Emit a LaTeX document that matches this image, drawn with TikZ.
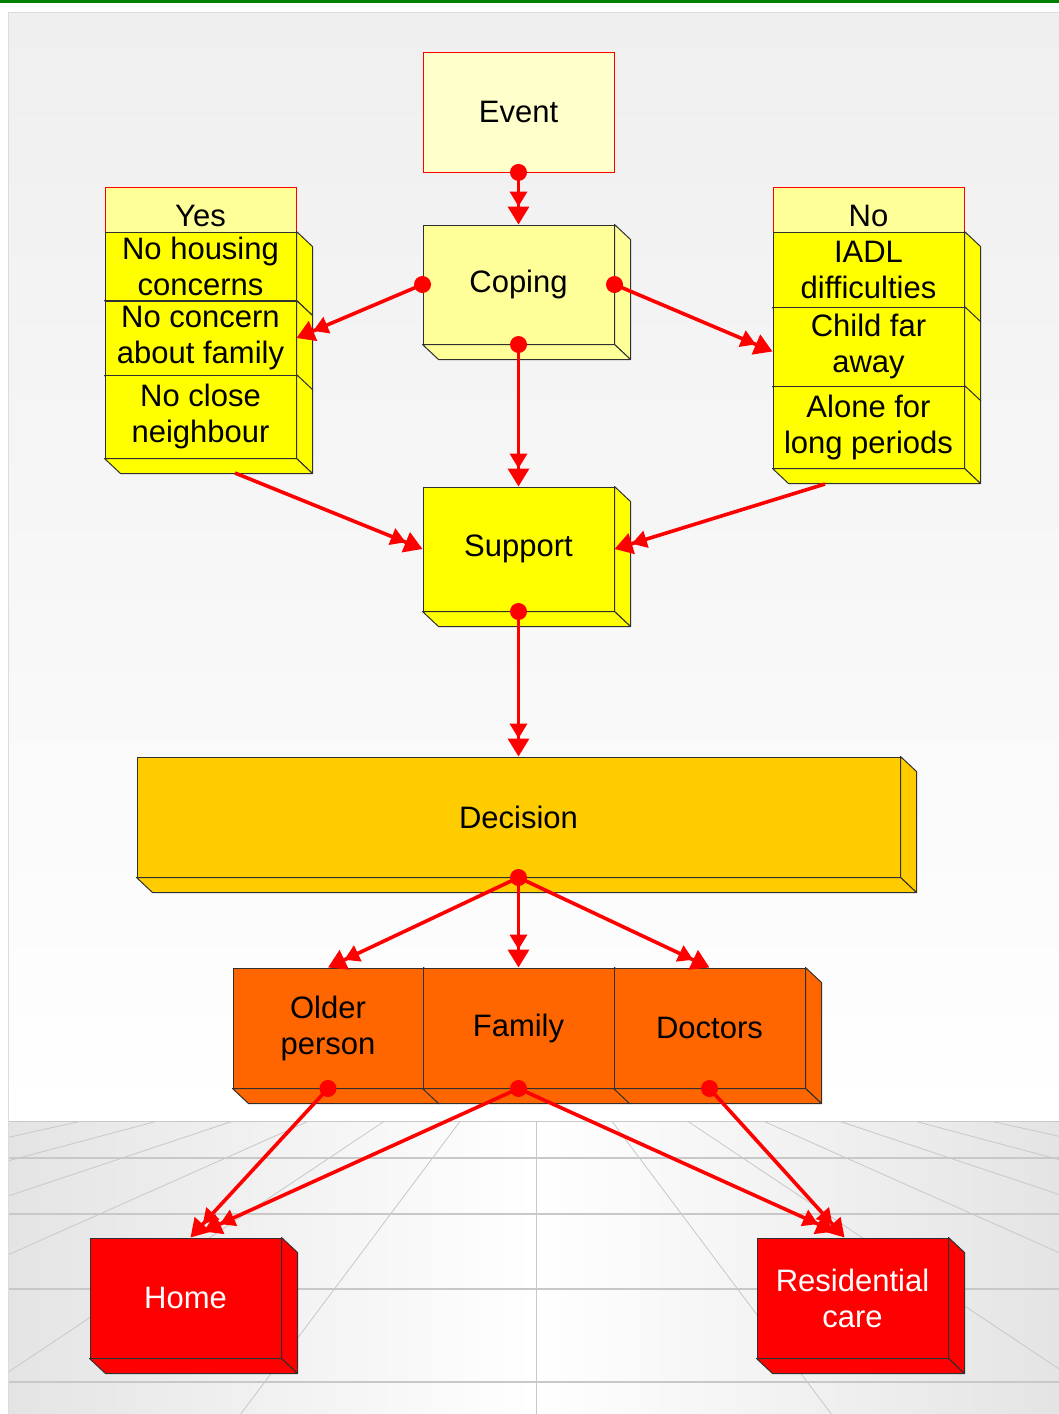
\documentclass[tikz,border=0pt]{standalone}
\usepackage{fontspec}
\setmainfont{Liberation Sans}
\usetikzlibrary{arrows.meta}
\definecolor{pale}{HTML}{FFFFCC}
\definecolor{lightyel}{HTML}{FFFF99}
\definecolor{yel}{HTML}{FFFF00}
\definecolor{gold}{HTML}{FFCC00}
\definecolor{orng}{HTML}{FF6600}
\definecolor{redbox}{HTML}{FF0000}
\definecolor{edgec}{HTML}{303030}
\definecolor{gridc}{HTML}{C8C8C8}
\definecolor{flooredge}{HTML}{E4E4E4}
\definecolor{bgtop}{HTML}{EFEFEF}
\definecolor{darkgreen}{HTML}{008000}
\definecolor{panelc}{HTML}{DCDCDC}

\newcommand\boxsides[2]{%
 \filldraw[edge,fill=#2] (#1.north east) -- ++(16,15) -- ([shift={(16,15)}]#1.south east) -- (#1.south east) -- cycle;
 \filldraw[edge,fill=#2] (#1.south west) -- ++(16,15) -- ([shift={(16,15)}]#1.south east) -- (#1.south east) -- cycle;}

\begin{document}
\begin{tikzpicture}[x=1pt,y=-1pt,
 edge/.style={draw=edgec,line width=1pt,line join=round},
 box/.style={edge,rectangle,inner sep=0pt,align=center,font=\fontsize{31}{36}\selectfont,text=black},
 flat/.style={rectangle,draw=red,line width=0.8pt,inner sep=0pt,align=center,font=\fontsize{31}{36}\selectfont},
 conn/.style={draw=red,line width=3.6pt,-{Triangle[length=15pt,width=17pt]Triangle[length=18pt,width=21pt]}},
 dot/.style={fill=red},
 gridline/.style={draw=gridc,line width=0.8pt},
 gridrow/.style={draw=gridc,line width=1.6pt},
]
\useasboundingbox (0,0) rectangle (1059,1414);
% background
\fill[white] (0,0) rectangle (1059,1414);
\fill[darkgreen] (0,0) rectangle (1059,3);
\shade[top color=bgtop,bottom color=white] (8,12) rectangle (1059,1121);
\shade[left color=flooredge,right color=flooredge,middle color=white] (8,1121) rectangle (1059,1414);
\begin{scope}
 \clip (8,1121) rectangle (1059,1414);
 \foreach \k in {-7,...,7} \draw[gridline] (536+75.7*\k,1121) -- (536+295.3*\k,1414);
 \foreach \yy in {1121,1158,1214,1289,1382} \draw[gridrow] (8,\yy) -- (1059,\yy);
\end{scope}
\draw[panelc,line width=1pt] (8,1414) -- (8,12) -- (1059,12);

% top
\node[flat,fill=pale,minimum width=191pt,minimum height=120pt] (event) at (518.5,112) {Event};
\node[box,fill=lightyel,minimum width=191pt,minimum height=119pt] (coping) at (518.5,284.5) {Coping};
\boxsides{coping}{lightyel}

% Yes stack
\node[flat,fill=lightyel,minimum width=191pt,minimum height=45pt] (yeshead) at (200.5,209.5) {\raisebox{-16.5pt}[0pt][0pt]{Yes}};
\node[box,fill=yel,minimum width=191pt,minimum height=68pt] (yes1) at (200.5,266) {No housing\\concerns};
\boxsides{yes1}{yel}
\node[box,fill=yel,minimum width=191pt,minimum height=74pt] (yes2) at (200.5,338) {No concern\\about family};
\boxsides{yes2}{yel}
\node[box,fill=yel,minimum width=191pt,minimum height=83pt] (yes3) at (200.5,416.5) {No close\\neighbour};
\boxsides{yes3}{yel}
\coordinate (yesout) at (235,473);

% No stack
\node[flat,fill=lightyel,minimum width=191pt,minimum height=45pt] (nohead) at (868.5,209.5) {\raisebox{-16.5pt}[0pt][0pt]{No}};
\node[box,fill=yel,minimum width=191pt,minimum height=75pt] (no1) at (868.5,269.5) {IADL\\difficulties};
\boxsides{no1}{yel}
\node[box,fill=yel,minimum width=191pt,minimum height=79pt] (no2) at (868.5,346.5) {Child far\\away};
\boxsides{no2}{yel}
\node[box,fill=yel,minimum width=191pt,minimum height=82pt] (no3) at (868.5,427) {Alone for\\long periods};
\boxsides{no3}{yel}
\coordinate (noout) at (825,484);

% middle
\node[box,fill=yel,minimum width=191pt,minimum height=124pt] (support) at (518.5,549) {Support};
\boxsides{support}{yel}
\node[box,fill=gold,minimum width=763pt,minimum height=120pt] (decision) at (518.5,817) {Decision};
\boxsides{decision}{gold}

% actors
\node[box,fill=orng,minimum width=190pt,minimum height=120pt] (older) at (328,1028) {Older\\person};
\boxsides{older}{orng}
\node[box,fill=orng,minimum width=191pt,minimum height=120pt] (family) at (518.5,1028) {Family};
\boxsides{family}{orng}
\node[box,fill=orng,minimum width=191pt,minimum height=120pt] (doctors) at (709.5,1028) {Doctors};
\boxsides{doctors}{orng}

% outcomes
\node[box,fill=redbox,text=white,minimum width=191pt,minimum height=120pt] (home) at (185.5,1298) {Home};
\boxsides{home}{redbox}
\node[box,fill=redbox,text=white,minimum width=191pt,minimum height=120pt] (resid) at (852.5,1298) {Residential\\care};
\boxsides{resid}{redbox}

% connectors
\draw[conn] (event.south) -- (coping.north);
\draw[conn] (coping.west) -- (yes2.east);
\draw[conn] (coping.east) -- ([yshift=-5pt]no2.west);
\draw[conn] (coping.south) -- (support.north);
\draw[conn] (yesout) -- (support.west);
\draw[conn] (noout) -- (support.east);
\draw[conn] (support.south) -- (decision.north);
\draw[conn] (decision.south) -- (older.north);
\draw[conn] (decision.south) -- (family.north);
\draw[conn] (decision.south) -- (doctors.north);
\draw[conn] (older.south) -- ([xshift=5pt]home.north);
\draw[conn] (family.south) -- ([xshift=18pt,yshift=6pt]home.north);
\draw[conn] (family.south) -- ([xshift=-18pt,yshift=6pt]resid.north);
\draw[conn] (doctors.south) -- ([xshift=-8pt]resid.north);

% dots
\foreach \p in {event.south,coping.west,coping.east,coping.south,support.south,decision.south,older.south,family.south,doctors.south}
 \fill[dot] (\p) circle[radius=8.5pt];
\end{tikzpicture}
\end{document}
